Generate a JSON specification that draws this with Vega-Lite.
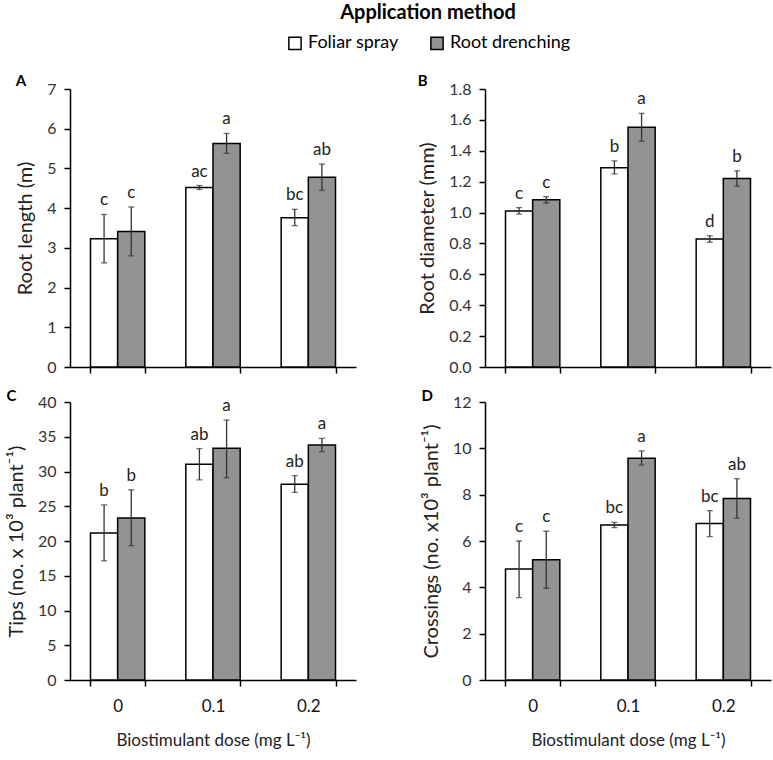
{
  "$schema": "https://vega.github.io/schema/vega-lite/v6.json",
  "padding": {"left": 6, "top": 3, "right": 2, "bottom": 5},
  "background": "white",
  "config": {
    "font": "Lato",
    "view": {"stroke": null},
    "axis": {"labelFont": "Lato", "titleFont": "Lato", "labelColor": "#333", "titleColor": "#222", "domainColor": "#000", "tickColor": "#000", "domainWidth": 1.5, "tickWidth": 1.5, "grid": false, "titleFontWeight": "normal"},
    "axisY": {"titleFontSize": 20, "labelFontSize": 16, "tickSize": 6, "labelPadding": 8, "titlePadding": 11},
    "title": {"font": "Lato"},
    "legend": {"labelFont": "Lato", "titleFont": "Lato"}
  },
  "data": {"values": [
    {"panel": "A", "dose": "0", "method": "Foliar spray", "value": 3.23, "lo": 2.62, "hi": 3.84, "letter": "c"},
    {"panel": "A", "dose": "0", "method": "Root drenching", "value": 3.41, "lo": 2.8, "hi": 4.03, "letter": "c"},
    {"panel": "A", "dose": "0.1", "method": "Foliar spray", "value": 4.52, "lo": 4.47, "hi": 4.57, "letter": "ac"},
    {"panel": "A", "dose": "0.1", "method": "Root drenching", "value": 5.63, "lo": 5.38, "hi": 5.88, "letter": "a"},
    {"panel": "A", "dose": "0.2", "method": "Foliar spray", "value": 3.76, "lo": 3.56, "hi": 3.97, "letter": "bc"},
    {"panel": "A", "dose": "0.2", "method": "Root drenching", "value": 4.78, "lo": 4.45, "hi": 5.11, "letter": "ab"},
    {"panel": "B", "dose": "0", "method": "Foliar spray", "value": 1.01, "lo": 0.99, "hi": 1.032, "letter": "c"},
    {"panel": "B", "dose": "0", "method": "Root drenching", "value": 1.083, "lo": 1.062, "hi": 1.103, "letter": "c"},
    {"panel": "B", "dose": "0.1", "method": "Foliar spray", "value": 1.29, "lo": 1.25, "hi": 1.335, "letter": "b"},
    {"panel": "B", "dose": "0.1", "method": "Root drenching", "value": 1.552, "lo": 1.462, "hi": 1.642, "letter": "a"},
    {"panel": "B", "dose": "0.2", "method": "Foliar spray", "value": 0.828, "lo": 0.808, "hi": 0.85, "letter": "d"},
    {"panel": "B", "dose": "0.2", "method": "Root drenching", "value": 1.22, "lo": 1.17, "hi": 1.27, "letter": "b"},
    {"panel": "C", "dose": "0", "method": "Foliar spray", "value": 21.15, "lo": 17.16, "hi": 25.19, "letter": "b"},
    {"panel": "C", "dose": "0", "method": "Root drenching", "value": 23.3, "lo": 19.33, "hi": 27.36, "letter": "b"},
    {"panel": "C", "dose": "0.1", "method": "Foliar spray", "value": 31.06, "lo": 28.8, "hi": 33.3, "letter": "ab"},
    {"panel": "C", "dose": "0.1", "method": "Root drenching", "value": 33.33, "lo": 29.1, "hi": 37.4, "letter": "a"},
    {"panel": "C", "dose": "0.2", "method": "Foliar spray", "value": 28.17, "lo": 27.0, "hi": 29.4, "letter": "ab"},
    {"panel": "C", "dose": "0.2", "method": "Root drenching", "value": 33.8, "lo": 32.86, "hi": 34.76, "letter": "a"},
    {"panel": "D", "dose": "0", "method": "Foliar spray", "value": 4.79, "lo": 3.56, "hi": 6.0, "letter": "c"},
    {"panel": "D", "dose": "0", "method": "Root drenching", "value": 5.19, "lo": 3.96, "hi": 6.42, "letter": "c"},
    {"panel": "D", "dose": "0.1", "method": "Foliar spray", "value": 6.69, "lo": 6.58, "hi": 6.8, "letter": "bc"},
    {"panel": "D", "dose": "0.1", "method": "Root drenching", "value": 9.57, "lo": 9.28, "hi": 9.89, "letter": "a"},
    {"panel": "D", "dose": "0.2", "method": "Foliar spray", "value": 6.76, "lo": 6.19, "hi": 7.31, "letter": "bc"},
    {"panel": "D", "dose": "0.2", "method": "Root drenching", "value": 7.83, "lo": 6.98, "hi": 8.69, "letter": "ab"}
  ]},
  "columns": 2,
  "spacing": {"row": 14, "column": 61},
  "concat": [
    {
      "width": 286, "height": 278,
      "title": {"text": "A", "anchor": "start", "frame": "bounds", "fontSize": 15, "fontWeight": "bold", "dy": 12, "dx": 0},
      "transform": [{"filter": "datum.panel === 'A'"}],
      "encoding": {
        "x": {"field": "dose", "type": "nominal", "sort": ["0", "0.1", "0.2"], "scale": {"paddingInner": 0.43, "paddingOuter": 0.215}, "axis": {"labels": false, "title": null, "tickBand": "extent", "tickSize": 6, "labelAngle": 0}},
        "xOffset": {"field": "method", "sort": ["Foliar spray", "Root drenching"], "scale": {"paddingInner": 0, "paddingOuter": 0}}
      },
      "layer": [
        {"mark": {"type": "bar", "stroke": "#000", "strokeWidth": 1.5},
         "encoding": {
           "y": {"field": "value", "type": "quantitative", "scale": {"domain": [0, 7]}, "axis": {"values": [0, 1, 2, 3, 4, 5, 6, 7], "title": "Root length (m)"}},
           "fill": {"field": "method", "type": "nominal", "sort": ["Foliar spray", "Root drenching"], "scale": {"domain": ["Foliar spray", "Root drenching"], "range": ["#ffffff", "#939393"]},
             "legend": {"orient": "none", "legendX": 216, "legendY": -86, "direction": "horizontal", "title": "Application method", "titleAnchor": "middle", "titleOrient": "top", "titleFontSize": 20, "titleFontWeight": "bold", "titleColor": "#000", "titlePadding": 11, "labelFontSize": 18, "labelColor": "#000", "symbolType": "square", "symbolSize": 150, "symbolStrokeColor": "#000", "symbolStrokeWidth": 1.5, "columnPadding": 28, "labelOffset": 4}}
         }},
        {"mark": {"type": "rule", "color": "#333", "strokeWidth": 1.3},
         "encoding": {"y": {"field": "lo", "type": "quantitative", "axis": {"values": [0, 1, 2, 3, 4, 5, 6, 7], "title": "Root length (m)"}}, "y2": {"field": "hi"}}},
        {"mark": {"type": "tick", "color": "#333", "size": 6, "thickness": 1.3},
         "encoding": {"y": {"field": "lo", "type": "quantitative", "axis": {"values": [0, 1, 2, 3, 4, 5, 6, 7], "title": "Root length (m)"}}}},
        {"mark": {"type": "tick", "color": "#333", "size": 6, "thickness": 1.3},
         "encoding": {"y": {"field": "hi", "type": "quantitative", "axis": {"values": [0, 1, 2, 3, 4, 5, 6, 7], "title": "Root length (m)"}}}},
        {"mark": {"type": "text", "baseline": "bottom", "dy": -5, "fontSize": 17, "color": "#222", "font": "Lato"},
         "encoding": {"y": {"field": "hi", "type": "quantitative", "axis": {"values": [0, 1, 2, 3, 4, 5, 6, 7], "title": "Root length (m)"}}, "text": {"field": "letter"}}}
      ]
    },
    {
      "width": 286, "height": 278,
      "title": {"text": "B", "anchor": "start", "frame": "bounds", "fontSize": 15, "fontWeight": "bold", "dy": 12, "dx": 0},
      "transform": [{"filter": "datum.panel === 'B'"}],
      "encoding": {
        "x": {"field": "dose", "type": "nominal", "sort": ["0", "0.1", "0.2"], "scale": {"paddingInner": 0.43, "paddingOuter": 0.215}, "axis": {"labels": false, "title": null, "tickBand": "extent", "tickSize": 6, "labelAngle": 0}},
        "xOffset": {"field": "method", "sort": ["Foliar spray", "Root drenching"], "scale": {"paddingInner": 0, "paddingOuter": 0}}
      },
      "layer": [
        {"mark": {"type": "bar", "stroke": "#000", "strokeWidth": 1.5},
         "encoding": {
           "y": {"field": "value", "type": "quantitative", "scale": {"domain": [0, 1.8]}, "axis": {"values": [0, 0.2, 0.4, 0.6, 0.8, 1.0, 1.2, 1.4, 1.6, 1.8], "format": ".1f", "title": "Root diameter (mm)"}},
           "fill": {"field": "method", "type": "nominal", "sort": ["Foliar spray", "Root drenching"], "scale": {"domain": ["Foliar spray", "Root drenching"], "range": ["#ffffff", "#939393"]}}
         }},
        {"mark": {"type": "rule", "color": "#333", "strokeWidth": 1.3},
         "encoding": {"y": {"field": "lo", "type": "quantitative", "axis": {"values": [0, 0.2, 0.4, 0.6, 0.8, 1.0, 1.2, 1.4, 1.6, 1.8], "format": ".1f", "title": "Root diameter (mm)"}}, "y2": {"field": "hi"}}},
        {"mark": {"type": "tick", "color": "#333", "size": 6, "thickness": 1.3},
         "encoding": {"y": {"field": "lo", "type": "quantitative", "axis": {"values": [0, 0.2, 0.4, 0.6, 0.8, 1.0, 1.2, 1.4, 1.6, 1.8], "format": ".1f", "title": "Root diameter (mm)"}}}},
        {"mark": {"type": "tick", "color": "#333", "size": 6, "thickness": 1.3},
         "encoding": {"y": {"field": "hi", "type": "quantitative", "axis": {"values": [0, 0.2, 0.4, 0.6, 0.8, 1.0, 1.2, 1.4, 1.6, 1.8], "format": ".1f", "title": "Root diameter (mm)"}}}},
        {"mark": {"type": "text", "baseline": "bottom", "dy": -5, "fontSize": 17, "color": "#222", "font": "Lato"},
         "encoding": {"y": {"field": "hi", "type": "quantitative", "axis": {"values": [0, 0.2, 0.4, 0.6, 0.8, 1.0, 1.2, 1.4, 1.6, 1.8], "format": ".1f", "title": "Root diameter (mm)"}}, "text": {"field": "letter"}}}
      ]
    },
    {
      "width": 286, "height": 278,
      "title": {"text": "C", "anchor": "start", "frame": "bounds", "fontSize": 15, "fontWeight": "bold", "dy": 14, "dx": 0},
      "transform": [{"filter": "datum.panel === 'C'"}],
      "encoding": {
        "x": {"field": "dose", "type": "nominal", "sort": ["0", "0.1", "0.2"], "scale": {"paddingInner": 0.43, "paddingOuter": 0.215}, "axis": {"title": "Biostimulant dose (mg L⁻¹)", "titleFontSize": 17, "labelFontSize": 17, "labelColor": "#111", "titlePadding": 18, "labelPadding": 12, "tickBand": "extent", "tickSize": 6, "labelAngle": 0}},
        "xOffset": {"field": "method", "sort": ["Foliar spray", "Root drenching"], "scale": {"paddingInner": 0, "paddingOuter": 0}}
      },
      "layer": [
        {"mark": {"type": "bar", "stroke": "#000", "strokeWidth": 1.5},
         "encoding": {
           "y": {"field": "value", "type": "quantitative", "scale": {"domain": [0, 40]}, "axis": {"values": [0, 5, 10, 15, 20, 25, 30, 35, 40], "title": "Tips (no. x 10³ plant⁻¹)"}},
           "fill": {"field": "method", "type": "nominal", "sort": ["Foliar spray", "Root drenching"], "scale": {"domain": ["Foliar spray", "Root drenching"], "range": ["#ffffff", "#939393"]}}
         }},
        {"mark": {"type": "rule", "color": "#333", "strokeWidth": 1.3},
         "encoding": {"y": {"field": "lo", "type": "quantitative", "axis": {"values": [0, 5, 10, 15, 20, 25, 30, 35, 40], "title": "Tips (no. x 10³ plant⁻¹)"}}, "y2": {"field": "hi"}}},
        {"mark": {"type": "tick", "color": "#333", "size": 6, "thickness": 1.3},
         "encoding": {"y": {"field": "lo", "type": "quantitative", "axis": {"values": [0, 5, 10, 15, 20, 25, 30, 35, 40], "title": "Tips (no. x 10³ plant⁻¹)"}}}},
        {"mark": {"type": "tick", "color": "#333", "size": 6, "thickness": 1.3},
         "encoding": {"y": {"field": "hi", "type": "quantitative", "axis": {"values": [0, 5, 10, 15, 20, 25, 30, 35, 40], "title": "Tips (no. x 10³ plant⁻¹)"}}}},
        {"mark": {"type": "text", "baseline": "bottom", "dy": -5, "fontSize": 17, "color": "#222", "font": "Lato"},
         "encoding": {"y": {"field": "hi", "type": "quantitative", "axis": {"values": [0, 5, 10, 15, 20, 25, 30, 35, 40], "title": "Tips (no. x 10³ plant⁻¹)"}}, "text": {"field": "letter"}}}
      ]
    },
    {
      "width": 286, "height": 278,
      "title": {"text": "D", "anchor": "start", "frame": "bounds", "fontSize": 15, "fontWeight": "bold", "dy": 14, "dx": 0},
      "transform": [{"filter": "datum.panel === 'D'"}],
      "encoding": {
        "x": {"field": "dose", "type": "nominal", "sort": ["0", "0.1", "0.2"], "scale": {"paddingInner": 0.43, "paddingOuter": 0.215}, "axis": {"title": "Biostimulant dose (mg L⁻¹)", "titleFontSize": 17, "labelFontSize": 17, "labelColor": "#111", "titlePadding": 18, "labelPadding": 12, "tickBand": "extent", "tickSize": 6, "labelAngle": 0}},
        "xOffset": {"field": "method", "sort": ["Foliar spray", "Root drenching"], "scale": {"paddingInner": 0, "paddingOuter": 0}}
      },
      "layer": [
        {"mark": {"type": "bar", "stroke": "#000", "strokeWidth": 1.5},
         "encoding": {
           "y": {"field": "value", "type": "quantitative", "scale": {"domain": [0, 12]}, "axis": {"values": [0, 2, 4, 6, 8, 10, 12], "title": "Crossings (no. x10³ plant⁻¹)"}},
           "fill": {"field": "method", "type": "nominal", "sort": ["Foliar spray", "Root drenching"], "scale": {"domain": ["Foliar spray", "Root drenching"], "range": ["#ffffff", "#939393"]}}
         }},
        {"mark": {"type": "rule", "color": "#333", "strokeWidth": 1.3},
         "encoding": {"y": {"field": "lo", "type": "quantitative", "axis": {"values": [0, 2, 4, 6, 8, 10, 12], "title": "Crossings (no. x10³ plant⁻¹)"}}, "y2": {"field": "hi"}}},
        {"mark": {"type": "tick", "color": "#333", "size": 6, "thickness": 1.3},
         "encoding": {"y": {"field": "lo", "type": "quantitative", "axis": {"values": [0, 2, 4, 6, 8, 10, 12], "title": "Crossings (no. x10³ plant⁻¹)"}}}},
        {"mark": {"type": "tick", "color": "#333", "size": 6, "thickness": 1.3},
         "encoding": {"y": {"field": "hi", "type": "quantitative", "axis": {"values": [0, 2, 4, 6, 8, 10, 12], "title": "Crossings (no. x10³ plant⁻¹)"}}}},
        {"mark": {"type": "text", "baseline": "bottom", "dy": -5, "fontSize": 17, "color": "#222", "font": "Lato"},
         "encoding": {"y": {"field": "hi", "type": "quantitative", "axis": {"values": [0, 2, 4, 6, 8, 10, 12], "title": "Crossings (no. x10³ plant⁻¹)"}}, "text": {"field": "letter"}}}
      ]
    }
  ]
}
